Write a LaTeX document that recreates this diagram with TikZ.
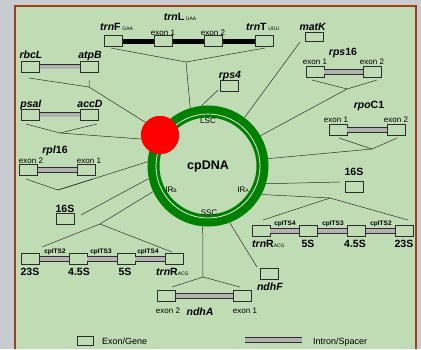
\documentclass[tikz,border=0pt]{standalone}
\usepackage{fontspec}
\setmainfont{Liberation Sans}
\usetikzlibrary{calc}
\definecolor{bggrey}{RGB}{200,204,208}
\definecolor{panel}{RGB}{192,220,180}
\definecolor{frame}{RGB}{160,64,24}
\definecolor{ringgreen}{RGB}{0,128,0}
\definecolor{bargrey}{RGB}{178,178,178}
\definecolor{ink}{RGB}{45,45,45}
\newcommand\sbs[1]{\raisebox{-0.8pt}{\fontsize{5}{5}\selectfont\mdseries #1}}
\tikzset{
  gene/.style={draw=ink, fill=panel, line width=0.6pt, minimum width=18pt, minimum height=11pt, inner sep=0pt},
  spacer/.style={draw=ink, line width=0.6pt, double=bargrey, double distance=4pt},
  blackbar/.style={line width=5pt, draw=black},
  link/.style={draw=ink, line width=0.5pt},
  glabel/.style={font=\fontsize{10.5}{12}\selectfont\bfseries, inner sep=0pt, anchor=base},
  exlabel/.style={font=\fontsize{8}{9}\selectfont, inner sep=0pt, anchor=base},
  itslabel/.style={font=\fontsize{6.5}{7}\selectfont\bfseries, inner sep=0pt, anchor=base},
  leglabel/.style={font=\fontsize{9}{10}\selectfont, inner sep=0pt, anchor=base west},
}
\begin{document}
\begin{tikzpicture}[x=1pt,y=-1pt]
\useasboundingbox (0,0) rectangle (421,349);
% background
\fill[bggrey] (0,0) rectangle (421,349);
\fill[panel] (15,6) rectangle (416,349);
\draw[frame, line width=1.5pt] (15,349) -- (15,6) -- (416,6) -- (416,349);

% central nodes
\node[circle, minimum size=121pt, inner sep=0pt] (ring) at (208,166) {};
\node[circle, fill=red, minimum size=38pt, inner sep=0pt] (dot) at (160,135) {};

% connector coordinates
\coordinate (trnA) at (111,48); \coordinate (trnV) at (186,62); \coordinate (trnB) at (265,48);
\coordinate (rbcA) at (29,78); \coordinate (rbcV) at (89,87); \coordinate (rbcB) at (89,80);
\coordinate (psaA) at (26,124); \coordinate (psaV) at (60,133); \coordinate (psaB) at (97,124);
\coordinate (rplA) at (26,179); \coordinate (rplV) at (58,190); \coordinate (rplB) at (93,179);
\coordinate (sLp) at (81,215);
\coordinate (rrnLA) at (42,247); \coordinate (rrnLV) at (100,224); \coordinate (rrnLB) at (172,252);
\coordinate (ndhAA) at (172,287); \coordinate (ndhAV) at (203,277); \coordinate (ndhAB) at (240,287);
\coordinate (ndhFp) at (257,267);
\coordinate (rrnRA) at (263,220); \coordinate (rrnRV) at (330,198); \coordinate (rrnRB) at (408,220);
\coordinate (sRp) at (340,182);
\coordinate (rpoA) at (339,138); \coordinate (rpoV) at (372,149); \coordinate (rpoB) at (397,138);
\coordinate (rpsA) at (312,80); \coordinate (rpsV) at (347,89); \coordinate (rpsB) at (377,80);
\coordinate (matp) at (300,42);
\coordinate (rps4p) at (218,90);

% connectors
\draw[link] (trnA) -- (trnV) -- (trnB); \draw[link] (trnV) -- (ring.107.5);
\draw[link] (rbcA) -- (rbcV) -- (rbcB); \draw[link] (rbcV) -- (dot.139);
\draw[link] (psaA) -- (psaV) -- (psaB); \draw[link] (psaV) -- (dot.192.5);
\draw[link] (rplA) -- (rplV) -- (rplB); \draw[link] (rplV) -- (ring.176);
\draw[link] (sLp) -- (ring.192);
\draw[link] (rrnLA) -- (rrnLV) -- (rrnLB); \draw[link] (rrnLV) -- (ring.205);
\draw[link] (ndhAA) -- (ndhAV) -- (ndhAB); \draw[link] (ndhAV) -- (ring.-95);
\draw[link] (ndhFp) -- (ring.-69);
\draw[link] (rrnRA) -- (rrnRV) -- (rrnRB); \draw[link] (rrnRV) -- (ring.-28);
\draw[link] (sRp) -- (ring.-17);
\draw[link] (rpoA) -- (rpoV) -- (rpoB); \draw[link] (rpoV) -- (ring.7.6);
\draw[link] (rpsA) -- (rpsV) -- (rpsB); \draw[link] (rpsV) -- (ring.30.5);
\draw[link] (matp) -- (ring.53);
\draw[link] (rps4p) -- (ring.96);

% ring
\draw[ringgreen, line width=12pt] (ring.center) circle[radius=54.5pt];
\draw[white, line width=0.7pt] (ring.center) circle[radius=52pt];
\node[circle, fill=red, minimum size=38pt, inner sep=0pt] at (dot.center) {};

% ring labels
\node[font=\fontsize{12.5}{14}\selectfont\bfseries, inner sep=0pt, anchor=base] (cp) at (208,169) {cpDNA};
\node[exlabel] (lsc) at (208,123) {LSC};
\node[exlabel] (ssc) at (209,215) {SSC};
\node[exlabel] (irb) at (171,192) {IR\sbs{B}};
\node[exlabel] (ira) at (243,192) {IR\sbs{A}};

% top trn cluster
\node[gene] (trnF) at (113,41) {};
\node[gene] (trnL1) at (163,41) {};
\node[gene] (trnL2) at (213.5,41) {};
\node[gene] (trnT) at (264,41) {};
\draw[blackbar] (trnF.east) -- (trnL1.west);
\draw[blackbar] (trnL1.east) -- (trnL2.west);
\draw[blackbar] (trnL2.east) -- (trnT.west);
\node[gene] at (trnF.center) {};
\node[gene] at (trnL1.center) {};
\node[gene] at (trnL2.center) {};
\node[gene] at (trnT.center) {};
\node[glabel, anchor=base west] (trnFl) at (100,30) {\textit{trn}F\,\sbs{GAA}};
\node[glabel] (trnLl) at (180,20) {\textit{trn}L\,\sbs{UAA}};
\node[exlabel] (trnL1l) at (163,35) {exon 1};
\node[exlabel] (trnL2l) at (213,35) {exon 2};
\node[glabel, anchor=base west] (trnTl) at (246,30) {\textit{trn}T\,\sbs{UGU}};

% rbcL / atpB
\node[gene] (rbcL) at (30.5,66.5) {};
\node[gene] (atpB) at (89.5,66.5) {};
\draw[spacer] (rbcL.east) -- (atpB.west);
\node[glabel] (rbcLl) at (31,58) {\textit{rbcL}};
\node[glabel] (atpBl) at (90,58) {\textit{atpB}};

% psaI / accD
\node[gene] (psaI) at (30.5,114.5) {};
\node[gene] (accD) at (89.5,114.5) {};
\draw[spacer] (psaI.east) -- (accD.west);
\node[glabel] (psaIl) at (31,107) {\textit{psaI}};
\node[glabel] (accDl) at (90,107) {\textit{accD}};

% rpl16
\node[gene] (rpl2) at (28.5,170) {};
\node[gene] (rpl1) at (86.5,170) {};
\draw[spacer] (rpl2.east) -- (rpl1.west);
\node[glabel] (rpll) at (55,153) {\textit{rpl}16};
\node[exlabel] (rpl2l) at (31,163) {exon 2};
\node[exlabel] (rpl1l) at (89,163) {exon 1};

% 16S left
\node[gene] (s16L) at (65.5,219) {};
\node[glabel] (s16Ll) at (65,212) {16S};

% left rRNA cluster
\node[gene] (l23) at (30.5,259) {};
\node[gene] (l45) at (78,259) {};
\node[gene] (l5) at (126,259) {};
\node[gene] (ltrnR) at (174,259) {};
\draw[spacer] (l23.east) -- (l45.west);
\draw[spacer] (l45.east) -- (l5.west);
\draw[spacer] (l5.east) -- (ltrnR.west);
\node[itslabel] (lits2) at (55,253) {cpITS2};
\node[itslabel] (lits3) at (101,253) {cpITS3};
\node[itslabel] (lits4) at (148,253) {cpITS4};
\node[glabel] (l23l) at (30,275) {23S};
\node[glabel] (l45l) at (79,275) {4.5S};
\node[glabel] (l5l) at (125,275) {5S};
\node[glabel, anchor=base west] (ltrnRl) at (156,275) {\textit{trn}R\sbs{ACG}};

% ndhA
\node[gene] (ndhA2) at (166.5,296) {};
\node[gene] (ndhA1) at (242.5,296) {};
\draw[spacer] (ndhA2.east) -- (ndhA1.west);
\node[exlabel] (ndhA2l) at (168,313) {exon 2};
\node[glabel] (ndhAl) at (200,315) {\textit{ndhA}};
\node[exlabel] (ndhA1l) at (245,313) {exon 1};

% ndhF
\node[gene] (ndhF) at (269.5,273.5) {};
\node[glabel] (ndhFl) at (270,290) {\textit{ndhF}};

% right rRNA cluster
\node[gene] (rtrnR) at (261,231) {};
\node[gene] (r5) at (308.5,231) {};
\node[gene] (r45) at (356.5,231) {};
\node[gene] (r23) at (404,231) {};
\draw[spacer] (rtrnR.east) -- (r5.west);
\draw[spacer] (r5.east) -- (r45.west);
\draw[spacer] (r45.east) -- (r23.west);
\node[itslabel] (rits4) at (285,225) {cpITS4};
\node[itslabel] (rits3) at (333,225) {cpITS3};
\node[itslabel] (rits2) at (381,225) {cpITS2};
\node[glabel, anchor=base west] (rtrnRl) at (252,247) {\textit{trn}R\sbs{ACG}};
\node[glabel] (r5l) at (308,247) {5S};
\node[glabel] (r45l) at (355,247) {4.5S};
\node[glabel] (r23l) at (404,247) {23S};

% 16S right
\node[gene] (s16R) at (354,187) {};
\node[glabel] (s16Rl) at (354,175) {16S};

% rpoC1
\node[gene] (rpo1) at (338,130) {};
\node[gene] (rpo2) at (396,130) {};
\draw[spacer] (rpo1.east) -- (rpo2.west);
\node[glabel] (rpol) at (369,108) {\textit{rpo}C1};
\node[exlabel] (rpo1l) at (336,122) {exon 1};
\node[exlabel] (rpo2l) at (396,122) {exon 2};

% rps16
\node[gene] (rps1) at (315,72) {};
\node[gene] (rps2) at (372.5,72) {};
\draw[spacer] (rps1.east) -- (rps2.west);
\node[glabel] (rpsl) at (343,55) {\textit{rps}16};
\node[exlabel] (rps1l) at (315,64) {exon 1};
\node[exlabel] (rps2l) at (372,64) {exon 2};

% matK
\node[gene, minimum height=9pt] (matK) at (314,36.5) {};
\node[glabel] (matKl) at (313,30) {\textit{matK}};

% rps4
\node[gene] (rps4) at (229.5,86) {};
\node[glabel] (rps4l) at (230,78) {\textit{rps4}};

% legend
\node[gene, minimum width=16pt, minimum height=9pt] (legbox) at (85,340.5) {};
\node[leglabel] (legboxl) at (102,344) {Exon/Gene};
\coordinate (legA) at (245,340); \coordinate (legB) at (302,340);
\draw[spacer] (legA) -- (legB);
\node[leglabel] (legbarl) at (313,344) {Intron/Spacer};
\end{tikzpicture}
\end{document}
